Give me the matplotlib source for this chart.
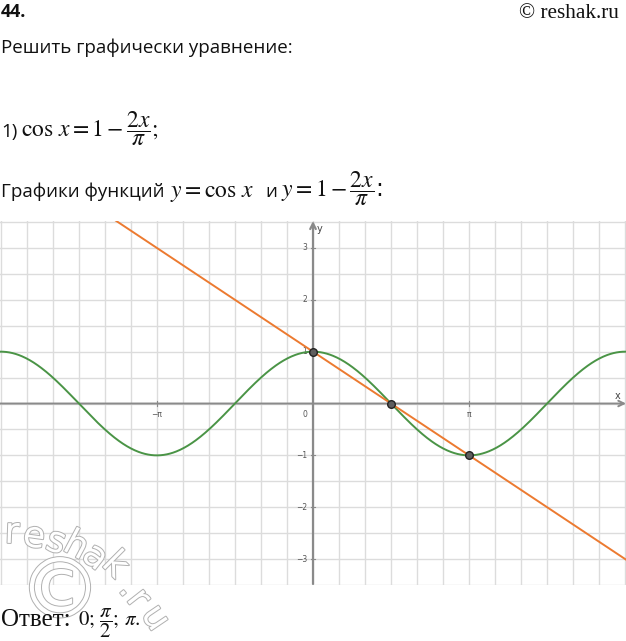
"""Графическое решение cos x = 1 - 2x/pi (reshak, №44)."""

import matplotlib
matplotlib.use("Agg")
import matplotlib.pyplot as plt
import matplotlib.patheffects as pe
import numpy as np

# data
x_min, x_max = -6.30, 6.30
y_min, y_max = -3.48, 3.52
root_x = [0.0, np.pi / 2, np.pi]
root_y = [1.0, 0.0, -1.0]
y_tick_vals = [-3, -2, -1, 1, 2, 3]
y_tick_labels = ["\u22123", "\u22122", "\u22121", "1", "2", "3"]
x_tick_vals = [-np.pi, np.pi]
x_tick_labels = ["\u2212\u03c0", "\u03c0"]

GREEN = "#4a9446"
ORANGE = "#ec7a30"
AXIS = "#8a8a8a"
GRID = "#dcdcdc"

plt.rcParams["mathtext.fontset"] = "stix"

W, H = 626, 641
fig = plt.figure(figsize=(W / 100, H / 100), dpi=100)

# plot area: pixels 221..585 vertically, full width
ax = fig.add_axes([0, 1 - 585 / H, 1, (585 - 221) / H])
ax.set_xlim(x_min, x_max)
ax.set_ylim(y_min, y_max)
for s in ax.spines.values():
    s.set_visible(False)

ax.set_xticks(np.arange(-12, 13) * np.pi / 6)
ax.set_yticks(np.arange(-7, 8) * 0.5)
ax.tick_params(length=0, labelbottom=False, labelleft=False)
ax.grid(True, color=GRID, linewidth=1.0)
ax.set_axisbelow(True)

# axes with arrows
ax.annotate("", xy=(x_max, 0), xytext=(x_min, 0),
            arrowprops=dict(arrowstyle="->", color=AXIS, lw=1.4,
                            shrinkA=0, shrinkB=0))
ax.annotate("", xy=(0, y_max), xytext=(0, y_min),
            arrowprops=dict(arrowstyle="->", color=AXIS, lw=1.6,
                            shrinkA=0, shrinkB=0))
ax.text(x_max - 0.12, 0.05, "x", fontsize=7, color="#444", ha="right", va="bottom")
ax.text(0.08, y_max - 0.05, "y", fontsize=7, color="#444", ha="left", va="top")

tick_fs = 5.5
for v, lab in zip(y_tick_vals, y_tick_labels):
    ax.plot([-0.04, 0.04], [v, v], color=AXIS, lw=0.8)
    ax.text(-0.12, v, lab, fontsize=tick_fs, color="#555", ha="right", va="center")
for v, lab in zip(x_tick_vals, x_tick_labels):
    ax.plot([v, v], [-0.04, 0.04], color=AXIS, lw=0.8)
    ax.text(v, -0.12, lab, fontsize=tick_fs, color="#555", ha="center", va="top")
ax.text(-0.12, -0.12, "0", fontsize=tick_fs, color="#555", ha="right", va="top")

# functions
xs = np.linspace(x_min, x_max, 800)
ax.plot(xs, np.cos(xs), color=GREEN, lw=1.4, zorder=3)
ax.plot(xs, 1 - 2 * xs / np.pi, color=ORANGE, lw=1.4, zorder=3)
ax.scatter(root_x, root_y, s=30, color="#5e5e5e", edgecolor="#222222",
           linewidth=1.0, zorder=5)


# text around the plot (positions in pixels from top-left)
def ftxt(px, py, s, **kw):
    kw.setdefault("va", "baseline")
    kw.setdefault("color", "#111")
    fig.text(px / W, 1 - py / H, s, **kw)


sans = dict(family="Open Sans", fontsize=13.5)
math_fs = 17

ftxt(1, 17, "44.", family="Open Sans", fontsize=13, weight="bold")
ftxt(519, 18, "\u00a9 reshak.ru", family="Liberation Serif", fontsize=15.3)
ftxt(1, 53, "Решить графически уравнение:", **sans)

ftxt(1, 137, "1)", **sans)
ftxt(21, 137, r"$\cos\,x = 1 - \dfrac{2x}{\pi};$", fontsize=math_fs)

ftxt(1, 197, "Графики функций", **sans)
ftxt(170, 197, r"$y = \cos\,x$", fontsize=math_fs)
ftxt(265, 197, "и", **sans)
ftxt(281, 197, r"$y = 1 - \dfrac{2x}{\pi}$:", fontsize=math_fs)

# answer line (the watermark overlaps it in the original as well)
ftxt(1, 626, "Ответ:", family="Liberation Serif", fontsize=18)
ftxt(78, 626, r"$0;\,\dfrac{\pi}{2};\,\pi.$", fontsize=15)

# watermark
wm = [("r", 12, 533, -2), ("e", 34, 537, -8), ("s", 56, 542, -18),
      ("h", 76, 546, -28), ("a", 95, 557, -38), ("k", 115, 565, -45),
      (".", 129, 588, -50), ("r", 138, 599, -52), ("u", 155, 618, -56)]
outline = [pe.withStroke(linewidth=1.4, foreground="#b0b0b0")]
for ch, px, py, rot in wm:
    fig.text(px / W, 1 - py / H, ch, family="DejaVu Sans", fontsize=26,
             color="white", ha="center", va="center", rotation=rot,
             path_effects=outline, zorder=0.5)
fig.text(60 / W, 1 - 594 / H, "\u00a9", family="DejaVu Sans", fontsize=60,
         color="white", ha="center", va="center", path_effects=outline,
         zorder=0.5)

fig.savefig("out.png", dpi=100)
